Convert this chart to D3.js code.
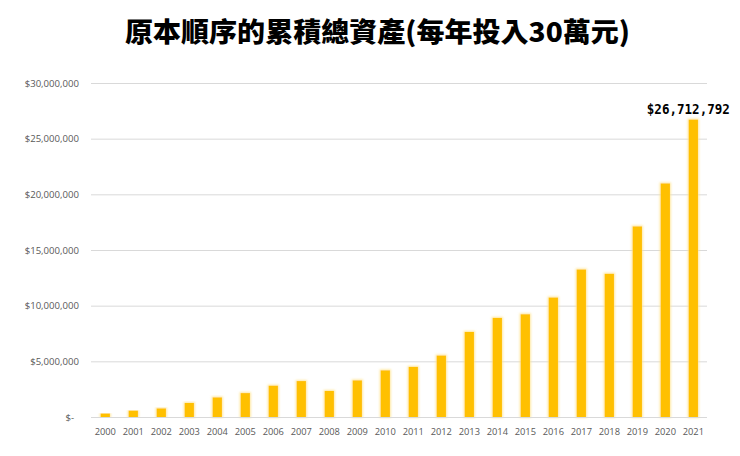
<!DOCTYPE html>
<html>
<head>
<meta charset="utf-8">
<script src="https://cdn.jsdelivr.net/npm/d3@7/dist/d3.min.js"></script>
<style>
html,body{margin:0;padding:0;background:#fff;}
svg{display:block;}
</style>
</head>
<body>
<svg id="chart" width="740" height="456"></svg>
<script>
const title = "原本順序的累積總資產(每年投入30萬元)";
const years = ["2000","2001","2002","2003","2004","2005","2006","2007","2008","2009","2010",
               "2011","2012","2013","2014","2015","2016","2017","2018","2019","2020","2021"];
const totals = [310000, 570000, 770000, 1260000, 1760000, 2150000, 2810000, 3230000, 2340000, 3290000, 4190000,
                4500000, 5520000, 7640000, 8900000, 9230000, 10730000, 13250000, 12860000, 17120000, 20980000, 26712792];
const yTicks = [0, 5000000, 10000000, 15000000, 20000000, 25000000, 30000000];
const yTickLabels = ["$-\u00a0\u00a0", "$5,000,000", "$10,000,000", "$15,000,000", "$20,000,000", "$25,000,000", "$30,000,000"];
const highlightLabel = "$26,712,792";

const svg = d3.select("#chart");
const defs = svg.append("defs");
const f = defs.append("filter").attr("id","glow").attr("x","-50%").attr("y","-10%").attr("width","200%").attr("height","120%");
f.append("feMorphology").attr("in","SourceAlpha").attr("operator","dilate").attr("radius",0.8).attr("result","d");
f.append("feGaussianBlur").attr("in","d").attr("stdDeviation",1.2).attr("result","b");
f.append("feFlood").attr("flood-color","#FFE38A").attr("flood-opacity",0.8);
f.append("feComposite").attr("in2","b").attr("operator","in").attr("result","g");
const m = f.append("feMerge");
m.append("feMergeNode").attr("in","g");
m.append("feMergeNode").attr("in","SourceGraphic");

const x = d3.scaleBand().domain(years).range([91.3, 707.3]).paddingInner(0.667).paddingOuter(0.333);
const y = d3.scaleLinear().domain([0, 30000000]).range([417, 83]);

// title
svg.append("text")
  .attr("x", 377.5).attr("y", 42)
  .attr("text-anchor","middle")
  .attr("font-family","'Noto Sans CJK TC','Noto Sans CJK SC',sans-serif")
  .attr("font-weight", 900)
  .attr("font-size", 27)
  .attr("fill","#000")
  .attr("textLength", 505)
  .attr("lengthAdjust","spacingAndGlyphs")
  .text(title);

// gridlines
const yAxis = d3.axisLeft(y).tickValues(yTicks).tickSize(-(707 - 91)).tickPadding(12)
  .tickFormat((d,i) => yTickLabels[i]);
const gy = svg.append("g").attr("transform","translate(91,0)").call(yAxis);
gy.select(".domain").remove();
gy.selectAll(".tick line").attr("stroke","#d9d9d9").attr("stroke-width",1);
gy.selectAll(".tick text")
  .attr("fill","#595959")
  .attr("font-family","'Open Sans','Liberation Sans',sans-serif")
  .attr("font-size", 9.6)
  .attr("x", -12)
  .style("white-space","pre");

// bars
svg.append("g").selectAll("rect").data(totals).join("rect")
  .attr("x", (d,i) => x(years[i]))
  .attr("width", x.bandwidth())
  .attr("y", d => y(d))
  .attr("height", d => y(0) - y(d))
  .attr("fill","#FFC000")
  .attr("filter","url(#glow)");

// x axis
const xAxis = d3.axisBottom(x).tickSize(0).tickPadding(11);
const gx = svg.append("g").attr("transform","translate(0,417)").call(xAxis);
gx.select(".domain").attr("stroke","#d9d9d9").attr("d","M91,0.5H707");
gx.selectAll(".tick text")
  .attr("fill","#595959")
  .attr("font-family","'Open Sans','Liberation Sans',sans-serif")
  .attr("font-size", 9.3);

// highlight label
const last = years.length - 1;
svg.append("text")
  .attr("x", x(years[last]) + x.bandwidth()/2 - 5)
  .attr("y", y(totals[last]) - 6)
  .attr("text-anchor","middle")
  .attr("font-family","'DejaVu Sans Mono','Liberation Mono',monospace")
  .attr("font-weight","bold")
  .attr("font-size", 14)
  .attr("textLength", 83)
  .attr("lengthAdjust","spacingAndGlyphs")
  .attr("fill","#000")
  .text(highlightLabel);
</script>
</body>
</html>
